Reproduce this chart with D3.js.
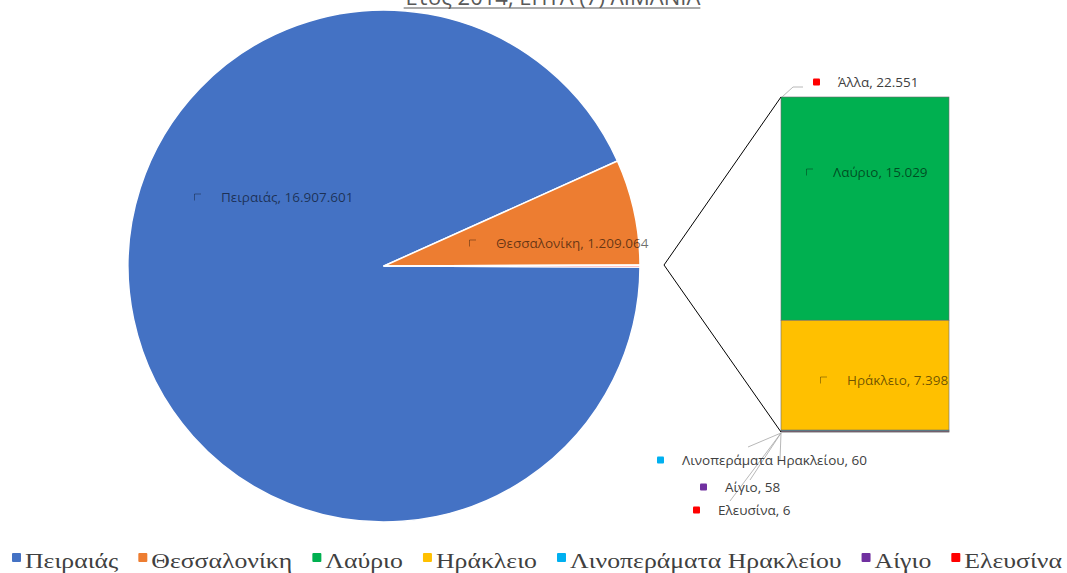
<!DOCTYPE html>
<html><head><meta charset="utf-8">
<script src="https://cdn.jsdelivr.net/npm/d3@7"></script>
<style>html,body{margin:0;padding:0;background:#fff;}svg{display:block;}</style>
</head><body>
<svg id="chart" width="1067" height="573"></svg>
<script>
// ---------- data ----------
const titleText = "Έτος 2014, ΕΠΤΑ (7) ΛΙΜΑΝΙΑ";
const pieCategories = ["Πειραιάς", "Θεσσαλονίκη"];
const pieValues = [16907601, 1209064];
const otherLabel = "Άλλα";
const barCategories = ["Λαύριο", "Ηράκλειο", "Λινοπεράματα Ηρακλείου", "Αίγιο", "Ελευσίνα"];
const barValues = [15029, 7398, 60, 58, 6];
const legendLabels = ["Πειραιάς", "Θεσσαλονίκη", "Λαύριο", "Ηράκλειο", "Λινοπεράματα Ηρακλείου", "Αίγιο", "Ελευσίνα"];
const pieColors = ["#4472C4", "#ED7D31"];
const otherColor = "#FF0000";
const barColors = ["#00B050", "#FFC000", "#00B0F0", "#7030A0", "#FF0000"];
const legendColors = ["#4472C4", "#ED7D31", "#00B050", "#FFC000", "#00B0F0", "#7030A0", "#FF0000"];

const fmt = v => d3.format(",")(v).replace(/,/g, ".");

// ---------- layout ----------
const svg = d3.select("#chart");
const cx = 384, cy = 266, R = 256;
const labelFont = "'Open Sans', sans-serif";

// title (clipped at top like reference)
const title = svg.append("text").attr("x", 552).attr("y", 5).attr("text-anchor", "middle")
  .attr("font-family", labelFont).attr("font-size", 22).attr("fill", "#595959").text(titleText);
const tw = title.node().getComputedTextLength();
svg.append("line").attr("x1", 552 - tw / 2).attr("x2", 552 + tw / 2).attr("y1", 8).attr("y2", 8)
  .attr("stroke", "#595959").attr("stroke-width", 1.2);

// pie
const otherTotal = d3.sum(barValues);
const pieData = pieCategories.map((c, i) => ({name: c, value: pieValues[i], color: pieColors[i]}))
  .concat([{name: otherLabel, value: otherTotal, color: otherColor}]);
const total = d3.sum(pieData, d => d.value);
const otherAngle = otherTotal / total * 2 * Math.PI;
const pie = d3.pie().sort(null).value(d => d.value)
  .startAngle(Math.PI / 2 + otherAngle / 2).endAngle(Math.PI / 2 + otherAngle / 2 + 2 * Math.PI);
const arcs = pie(pieData);
const arc = d3.arc().innerRadius(0).outerRadius(R);
const g = svg.append("g").attr("transform", `translate(${cx},${cy})`);
g.selectAll("path").data(arcs).join("path")
  .attr("d", arc).attr("fill", d => d.data.color)
  .attr("stroke", "#fff").attr("stroke-width", 1.5).attr("stroke-linejoin", "round");

// bar of pie
const barX0 = 781, barX1 = 949;
const y = d3.scaleLinear().domain([0, otherTotal]).range([97, 432]);
let acc = 0;
const stack = barValues.map((v, i) => { const s = acc; acc += v; return {name: barCategories[i], value: v, y0: s, y1: acc, color: barColors[i]}; });
svg.append("g").selectAll("rect").data(stack).join("rect")
  .attr("x", barX0).attr("width", barX1 - barX0)
  .attr("y", d => y(d.y0)).attr("height", d => y(d.y1) - y(d.y0))
  .attr("fill", d => d.color).attr("stroke", "#6b6b6b").attr("stroke-width", 0.6);

// connectors
const jx = cx + R + 24, jy = cy - 1;
svg.append("path").attr("d", `M${barX0},${y(0)}L${jx},${jy}L${barX0},${y(otherTotal)}`)
  .attr("fill", "none").attr("stroke", "#000").attr("stroke-width", 1);

// leader lines
const lead = svg.append("g").attr("fill", "none").attr("stroke", "#a6a6a6").attr("stroke-width", 0.8);
lead.append("path").attr("d", `M${barX0 + 1},${y(0)}L793,87L803,87`);
const by = y(otherTotal) + 1;
lead.append("path").attr("d", `M${barX0},${by}L748,447`);
lead.append("path").attr("d", `M${barX0},${by}L750,480`);
lead.append("path").attr("d", `M${barX0},${by}L730,501`);
lead.append("path").attr("d", `M${barX0},${by}L780,460`);

// data labels
function dataLabel(x, yc, color, text, inside) {
  const lg = svg.append("g");
  if (inside) {
    lg.append("rect").attr("x", x).attr("y", yc - 3.5).attr("width", 7).attr("height", 7).attr("fill", color);
    lg.append("path").attr("d", `M${x + 0.5},${yc + 3.5}V${yc - 3}H${x + 7}`).attr("fill", "none")
      .attr("stroke", "#000").attr("stroke-opacity", 0.35).attr("stroke-width", 1);
  } else {
    lg.append("rect").attr("x", x).attr("y", yc - 3.5).attr("width", 7).attr("height", 7).attr("fill", color).attr("rx", 1);
  }
  lg.append("text").attr("x", x + (inside ? 27 : 25)).attr("y", yc).attr("dy", "0.35em")
    .attr("font-family", labelFont).attr("font-size", 13.5)
    .attr("fill", inside ? "#000" : "#404040").attr("fill-opacity", inside ? 0.58 : 1)
    .text(text);
}
dataLabel(194, 197, pieColors[0], `${pieCategories[0]}, ${fmt(pieValues[0])}`, true);
dataLabel(469, 243, pieColors[1], `${pieCategories[1]}, ${fmt(pieValues[1])}`, true);
dataLabel(806, 172, barColors[0], `${barCategories[0]}, ${fmt(barValues[0])}`, true);
dataLabel(820, 380, barColors[1], `${barCategories[1]}, ${fmt(barValues[1])}`, true);
dataLabel(813, 82, otherColor, `${otherLabel}, ${fmt(otherTotal)}`, false);
dataLabel(657, 460, barColors[2], `${barCategories[2]}, ${fmt(barValues[2])}`, false);
dataLabel(700, 487, barColors[3], `${barCategories[3]}, ${fmt(barValues[3])}`, false);
dataLabel(693, 510, barColors[4], `${barCategories[4]}, ${fmt(barValues[4])}`, false);

// legend
const legend = svg.append("g");
const items = legendLabels.map((l, i) => {
  const it = legend.append("g");
  it.append("rect").attr("x", 0).attr("y", -8).attr("width", 9).attr("height", 9).attr("rx", 1).attr("fill", legendColors[i]);
  const t = it.append("text").attr("x", 13).attr("y", 0).attr("dy", "0.3em")
    .attr("font-family", "'Liberation Serif', 'Times New Roman', serif").attr("font-size", 22)
    .attr("fill", "#404040").text(l);
  const w = t.node().getComputedTextLength() * 1.17;
  t.attr("textLength", w).attr("lengthAdjust", "spacingAndGlyphs");
  return {g: it, w: 13 + w};
});
const legendLeft = 12, legendRight = 1062;
const gap = (legendRight - legendLeft - d3.sum(items, d => d.w)) / (items.length - 1);
let lx = legendLeft;
items.forEach(d => { d.g.attr("transform", `translate(${lx},${561})`); lx += d.w + gap; });
</script>
</body></html>
